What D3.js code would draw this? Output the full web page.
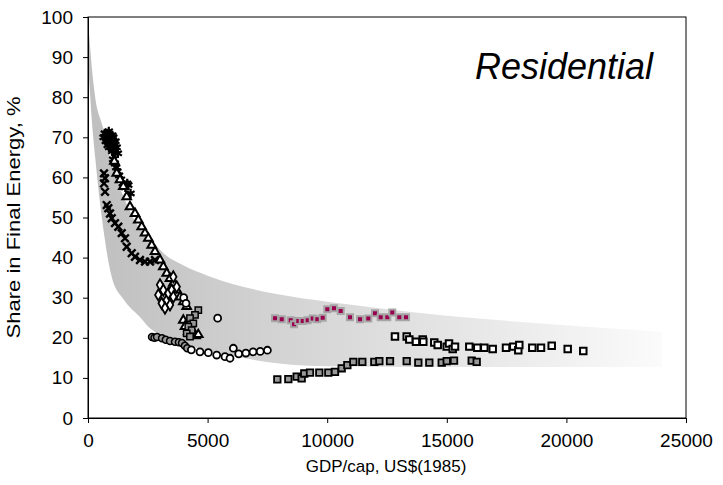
<!DOCTYPE html>
<html>
<head>
<meta charset="utf-8">
<script src="https://cdn.jsdelivr.net/npm/d3@7"></script>
<style>
    body { margin: 0; background: #fff; }
    text { font-family: "Liberation Sans", Arial, sans-serif; }
</style>
</head>
<body>
<svg id="chart" width="723" height="485"></svg>
<script>
// envelope band
const bandX     = [0, 40, 150, 300, 600, 1000, 1500, 2200, 2600, 3000, 4000, 5000, 6000, 8000, 10000, 12000, 15000, 18000, 21000, 24000];
const bandUpper = [98, 96, 88, 80, 73, 63, 55, 47, 45, 42, 38, 35.5, 33.5, 30.8, 29, 27.5, 25.5, 24, 22.7, 21.5];
const bandLower = [88, 85, 75, 65, 49, 35, 29.5, 25, 22.3, 20.8, 18.5, 16.8, 15.5, 13.6, 12.9, 12.8, 12.7, 12.7, 12.7, 12.8];

// asterisk series
const astX = [650, 700, 740, 780, 820, 830, 870, 880, 900, 940, 980, 1020, 1060, 1100, 1150, 1200, 1250, 960, 1010, 1080, 1130, 1050, 1120, 1180, 1230, 1300, 1380, 1450, 1560, 1640, 1686, 1780];
const astY = [70, 71, 69, 71, 68, 70, 71.5, 67.5, 69.5, 70.5, 69, 70.5, 70, 68.5, 69, 67.5, 66, 67.5, 66.5, 67, 66, 64.5, 63.5, 62.5, 61.5, 60.5, 59.5, 58.5, 57.5, 58.5, 58.1, 56];

// x-cross series
const crossX = [669, 711, 669, 711, 782, 849, 920, 991, 1129, 1267, 1409, 1547, 1618, 1827, 1965, 2174, 2383, 2592, 2801];
const crossY = [61, 59.8, 58.5, 56.4, 53.1, 52.3, 51, 49.8, 48.6, 47.7, 46.1, 44.8, 42.7, 41.1, 40.2, 39.4, 39, 39, 39.4];

// triangle series
const triX = [1100, 1200, 1338, 1476, 1618, 1756, 1965, 2103, 2245, 2383, 2521, 2663, 2801, 3010, 3148, 3290, 3428, 3566, 3708, 3846, 3984, 4126, 3984, 4055, 4193, 4335, 4500, 4611];
const triY = [64, 61, 59.4, 57.7, 55.2, 52.7, 51, 49.4, 47.7, 46.1, 44.8, 43.1, 41.5, 39.4, 37.7, 36.1, 34.8, 33.6, 31.9, 30.2, 29, 27.8, 24.4, 22.8, 21.5, 20.7, 20.5, 20.8];

// diamond series
const diaX = [3010, 3148, 2939, 3081, 3290, 3357, 3499, 3566, 3428, 3219, 3708, 3566];
const diaY = [33.2, 31.9, 30.7, 28.6, 29.4, 31.1, 31.9, 30.2, 28.2, 27.4, 32.7, 35.2];

// grey filled squares near 4000
const gsqAX = [4611, 4473, 4264, 4402, 4193, 4335, 4126, 4264];
const gsqAY = [26.9, 25.7, 24.9, 23.6, 22.8, 21.9, 21.1, 20.3];

// grey filled circles
const gcirX = [2676, 2780, 2885, 3094, 3250, 3428, 3637, 3800, 3930, 4050, 4150];
const gcirY = [20.2, 20, 20.2, 19.9, 19.5, 19.2, 19, 18.9, 18.7, 18, 17.4];

// open circles
const ocirX = [4000, 4097, 5420, 4320, 4682, 5030, 5380, 5727, 5936, 6076, 6300, 6600, 6900, 7200, 7500];
const ocirY = [30, 28.6, 24.9, 17, 16.5, 16.3, 15.7, 15.3, 14.9, 17.4, 16, 16.2, 16.5, 16.6, 16.9];

// magenta squares
const magX = [7818, 8098, 8474, 8612, 8792, 8976, 9185, 9394, 9586, 9812, 10004, 10284, 10564, 10953, 11371, 11718, 11998, 12237, 12513, 12721, 13014, 13294];
const magY = [24.9, 24.6, 24.4, 23.4, 24.2, 24.2, 24.4, 24.8, 24.6, 25, 27.1, 27.4, 26.7, 25.1, 24.6, 24.8, 26.1, 25.1, 25.1, 26.3, 25.1, 25.1];

// open squares
const osqX = [12834, 13324, 13433, 13712, 13993, 14018, 14477, 14620, 14996, 15092, 15247, 15343, 15941, 16275, 16568, 16919, 17475, 17780, 17989, 18031, 18574, 18938, 19386, 20054, 20706];
const osqY = [20.3, 20.3, 19.6, 19, 19.6, 19, 18.8, 18.2, 17.8, 18.6, 17.2, 17.8, 17.8, 17.5, 17.5, 17.2, 17.5, 17.8, 16.9, 18.2, 17.5, 17.5, 18, 17.2, 16.7];

// grey filled squares, lower run
const gsqBX = [7915, 8375, 8724, 8933, 9042, 9281, 9670, 10046, 10326, 10606, 10842, 11092, 11468, 11970, 12180, 12626, 13324, 13809, 14269, 14787, 14997, 15302, 16041, 16250];
const gsqBY = [9.65, 9.7, 10.3, 9.9, 11.1, 11.3, 11.3, 11.3, 11.5, 12.4, 13.2, 14, 14, 14, 14.2, 14.2, 14.2, 13.8, 13.8, 13.8, 14.2, 14.3, 14.3, 14];

const xTicks = [0, 5000, 10000, 15000, 20000, 25000];
const yTicks = [0, 10, 20, 30, 40, 50, 60, 70, 80, 90, 100];

const margin = {top: 17, right: 37, bottom: 67, left: 88};
const svg = d3.select("#chart");
const width = 723 - margin.left - margin.right;
const height = 485 - margin.top - margin.bottom;

const xScale = d3.scaleLinear().domain([0, 25000]).range([margin.left, margin.left + width]);
const yScale = d3.scaleLinear().domain([0, 100]).range([margin.top + height, margin.top]);

// gradient for the band
let grad = svg.append("defs").append("linearGradient")
    .attr("id", "bandGrad")
    .attr("gradientUnits", "userSpaceOnUse")
    .attr("x1", xScale(0)).attr("x2", xScale(24000))
    .attr("y1", 0).attr("y2", 0);
grad.append("stop").attr("offset", "0%").attr("stop-color", "#bfbfbf");
grad.append("stop").attr("offset", "45%").attr("stop-color", "#dadada");
grad.append("stop").attr("offset", "100%").attr("stop-color", "#fbfbfb");

let band = bandX.map((d, i) => ({x: d, lo: bandLower[i], hi: bandUpper[i]}));
svg.append("path")
    .datum(band)
    .attr("fill", "url(#bandGrad)")
    .attr("d", d3.area()
        .curve(d3.curveMonotoneX)
        .x(d => xScale(d.x))
        .y0(d => yScale(d.lo))
        .y1(d => yScale(d.hi)));

// axes
let xAxis = svg.append("g")
    .attr("transform", "translate(0," + (margin.top + height) + ")")
    .call(d3.axisBottom(xScale).tickValues(xTicks).tickSize(5).tickPadding(11).tickFormat(d3.format("d")));
let yAxis = svg.append("g")
    .attr("transform", "translate(" + margin.left + ",0)")
    .call(d3.axisLeft(yScale).tickValues(yTicks).tickSize(5).tickPadding(10));

[xAxis, yAxis].forEach(a => {
    a.attr("font-family", null).attr("font-size", null);
    a.selectAll("text").attr("font-size", 19).attr("fill", "#000");
    a.selectAll("line").attr("stroke", "#000");
    a.select(".domain").attr("stroke", "#000");
});

// plot frame
svg.append("rect")
    .attr("x", margin.left).attr("y", margin.top)
    .attr("width", width).attr("height", height)
    .attr("fill", "none").attr("stroke", "#000").attr("stroke-width", 1);

// marker series
let series = [
    {xs: crossX, ys: crossY, type: d3.symbolTimes, size: 40, fill: "none", stroke: "#000", sw: 2.4},
    {xs: astX, ys: astY, type: d3.symbolAsterisk, size: 60, fill: "none", stroke: "#000", sw: 2.2},
    {xs: triX, ys: triY, type: d3.symbolTriangle, size: 32, fill: "#fff", stroke: "#000", sw: 2},
    {xs: diaX, ys: diaY, type: d3.symbolDiamond, size: 36, fill: "#fff", stroke: "#000", sw: 1.8},
    {xs: gcirX, ys: gcirY, type: d3.symbolCircle, size: 38, fill: "#999", stroke: "#000", sw: 1.5},
    {xs: gsqAX, ys: gsqAY, type: d3.symbolSquare, size: 40, fill: "#999", stroke: "#000", sw: 1.5},
    {xs: ocirX, ys: ocirY, type: d3.symbolCircle, size: 38, fill: "#fff", stroke: "#000", sw: 1.8},
    {xs: magX, ys: magY, type: d3.symbolSquare, size: 36, fill: "#99004d", stroke: "#a6a6a6", sw: 2},
    {xs: gsqBX, ys: gsqBY, type: d3.symbolSquare, size: 42, fill: "#999", stroke: "#000", sw: 1.8},
    {xs: osqX, ys: osqY, type: d3.symbolSquare, size: 42, fill: "#fff", stroke: "#000", sw: 2}
];

series.forEach(s => {
    let pts = s.xs.map((d, i) => ({x: d, y: s.ys[i]}));
    svg.append("g").selectAll("path")
        .data(pts)
        .enter().append("path")
        .attr("d", d3.symbol().type(s.type).size(s.size))
        .attr("fill", s.fill)
        .attr("stroke", s.stroke)
        .attr("stroke-width", s.sw)
        .attr("transform", d => "translate(" + xScale(d.x) + "," + yScale(d.y) + ")");
});

// labels
svg.append("text")
    .attr("x", 564).attr("y", 79)
    .attr("text-anchor", "middle")
    .attr("font-size", 36)
    .attr("font-style", "italic")
    .text("Residential");

svg.append("text")
    .attr("x", 386).attr("y", 472)
    .attr("text-anchor", "middle")
    .attr("font-size", 17)
    .text("GDP/cap, US$(1985)");

svg.append("text")
    .attr("transform", "translate(20," + yScale(50) + ") rotate(-90)")
    .attr("text-anchor", "middle")
    .attr("font-size", 18)
    .attr("textLength", 242)
    .attr("lengthAdjust", "spacingAndGlyphs")
    .text("Share in Final Energy, %");
</script>
</body>
</html>
